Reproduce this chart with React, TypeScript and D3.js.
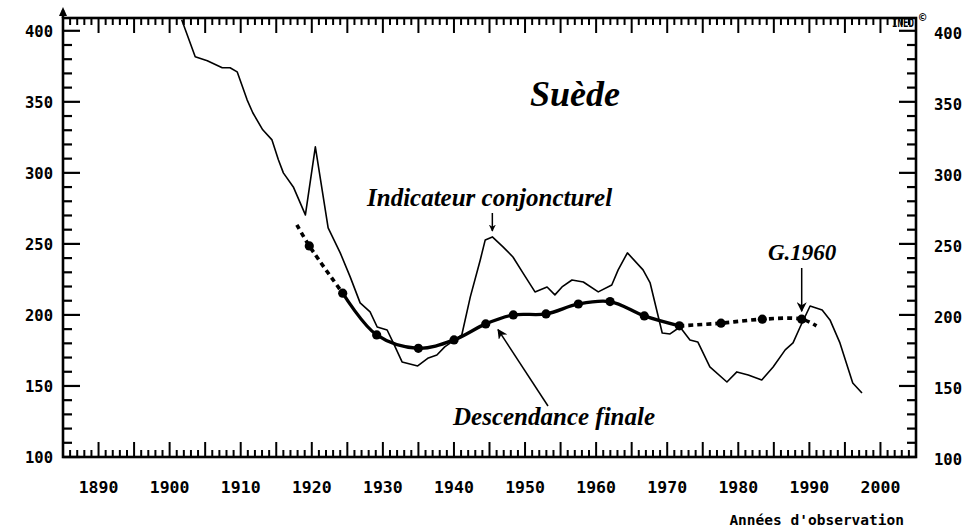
import React from "react";
import * as d3 from "d3";

// Indicateur conjoncturel (thin line), x 100
const IC_YEARS = [1901.7, 1903.6, 1905.3, 1907.4, 1908.5, 1909.5, 1910.9, 1911.7, 1913.1, 1914.4, 1915.3, 1916.0, 1917.4, 1919.1, 1920.5, 1922.3, 1924.0, 1925.4, 1926.8, 1928.2, 1929.2, 1930.6, 1931.4, 1932.7, 1934.9, 1936.4, 1937.6, 1938.7, 1941.1, 1942.3, 1943.7, 1944.4, 1945.4, 1946.9, 1948.3, 1949.7, 1951.4, 1953.1, 1954.2, 1955.2, 1956.6, 1958.2, 1960.3, 1962.2, 1963.1, 1964.4, 1966.6, 1967.6, 1969.3, 1970.4, 1971.8, 1973.2, 1974.3, 1976.0, 1978.4, 1979.8, 1981.4, 1983.3, 1984.9, 1986.6, 1987.7, 1988.7, 1990.1, 1991.8, 1992.9, 1994.3, 1996.1, 1997.4];
const IC_VALUES = [407.7, 381.7, 378.9, 374.0, 374.0, 371.1, 351.4, 342.3, 330.3, 323.2, 309.2, 300.0, 290.1, 270.4, 318.3, 261.3, 243.7, 226.8, 208.5, 202.1, 191.5, 189.4, 181.0, 166.9, 164.1, 169.7, 171.8, 177.5, 185.9, 212.7, 238.7, 252.8, 254.9, 247.9, 240.8, 229.6, 216.2, 219.7, 214.1, 219.7, 224.6, 223.2, 216.2, 221.1, 231.7, 243.7, 231.7, 222.5, 187.3, 186.6, 191.5, 182.4, 181.0, 163.4, 152.8, 159.9, 157.7, 154.2, 163.4, 175.4, 180.3, 191.5, 206.3, 203.5, 196.5, 180.3, 152.1, 145.1];

// Descendance finale (thick line with dots)
const DF_YEARS = [1917.9, 1919.65, 1924.35, 1929.13, 1934.99, 1940.01, 1944.47, 1948.35, 1952.95, 1957.5, 1961.96, 1966.78, 1971.71, 1977.57, 1983.38, 1988.92, 1991.0];
const DF_VALUES = [263.4, 248.6, 215.3, 185.9, 176.5, 182.4, 193.7, 200.0, 200.7, 207.7, 209.4, 199.3, 192.3, 194.2, 197.0, 197.0, 192.3];
const DF_HAS_DOT = [false, true, true, true, true, true, true, true, true, true, true, true, true, true, true, true, false];
const DF_SOLID_FROM = 2;
const DF_SOLID_TO = 12;

const X_TICK_LABELS = [1890, 1900, 1910, 1920, 1930, 1940, 1950, 1960, 1970, 1980, 1990, 2000];
const Y_TICK_LABELS = [100, 150, 200, 250, 300, 350, 400];

const TITLE = "Suède";
const LABEL_IC = "Indicateur conjoncturel";
const LABEL_DF = "Descendance finale";
const LABEL_G = "G.1960";
const X_TITLE = "Années d'observation";

const W = 965;
const H = 531;

export default function App() {
  const x = d3.scaleLinear().domain([1885, 2005]).range([63, 916]);
  const y = d3.scaleLinear().domain([100, 409]).range([457, 18]);
  const x0 = x(1885), x1 = x(2005), yTop = y(409), yBot = y(100);

  const icData = IC_YEARS.map((yr, i) => [yr, IC_VALUES[i]] as [number, number]);
  const dfData = DF_YEARS.map((yr, i) => [yr, DF_VALUES[i]] as [number, number]);

  const thin = d3.line<[number, number]>().x(d => x(d[0])).y(d => y(d[1]));
  const smooth = d3.line<[number, number]>().x(d => x(d[0])).y(d => y(d[1])).curve(d3.curveCatmullRom.alpha(0.5));

  const dfStart = dfData.slice(0, DF_SOLID_FROM + 1);
  const dfSolid = dfData.slice(DF_SOLID_FROM, DF_SOLID_TO + 1);
  const dfEnd = dfData.slice(DF_SOLID_TO);

  const yearTicks = d3.range(1885, 2006, 1);
  const valTicks = d3.range(100, 410, 10);

  const serif = "'Liberation Serif', 'Times New Roman', serif";
  const mono = "'DejaVu Sans Mono', monospace";

  return (
    <svg width={W} height={H} style={{ position: "absolute", left: 0, top: 0, background: "#fff" }}>
      <defs>
        <marker id="arr" viewBox="0 0 10 10" refX="9" refY="5" markerWidth="7" markerHeight="7" orient="auto" markerUnits="userSpaceOnUse">
          <path d="M0,0 L10,5 L0,10 L3,5 z" fill="#000" />
        </marker>
        <marker id="arrBig" viewBox="0 0 10 10" refX="9" refY="5" markerWidth="10" markerHeight="10" orient="auto" markerUnits="userSpaceOnUse">
          <path d="M0,0 L10,5 L0,10 L3,5 z" fill="#000" />
        </marker>
      </defs>

      {/* frame */}
      <rect x={x0} y={yTop} width={x1 - x0} height={yBot - yTop} fill="none" stroke="#000" strokeWidth={2.6} />
      {/* left axis arrow */}
      <line x1={x0} y1={yTop} x2={x0} y2={yTop - 8} stroke="#000" strokeWidth={2.5} />
      <path d={`M${x0 - 4},${yTop - 2} L${x0},${yTop - 11} L${x0 + 4},${yTop - 2} z`} fill="#000" />

      {/* vertical ticks */}
      {valTicks.map(v => {
        const len = v % 50 === 0 ? 17 : 9;
        return (
          <g key={"v" + v}>
            <line x1={x0} x2={x0 + len} y1={y(v)} y2={y(v)} stroke="#000" strokeWidth={2.2} />
            <line x1={x1} x2={x1 - len} y1={y(v)} y2={y(v)} stroke="#000" strokeWidth={2.2} />
          </g>
        );
      })}
      {/* horizontal ticks */}
      {yearTicks.map(yr => {
        const len = yr % 5 === 0 ? 15 : 7;
        return (
          <g key={"h" + yr}>
            <line x1={x(yr)} x2={x(yr)} y1={yTop} y2={yTop + len} stroke="#000" strokeWidth={2} />
            <line x1={x(yr)} x2={x(yr)} y1={yBot} y2={yBot - len} stroke="#000" strokeWidth={2} />
          </g>
        );
      })}

      {/* y tick labels */}
      {Y_TICK_LABELS.map(v => (
        <g key={"yl" + v}>
          <text x={x0 - 10} y={y(v) + 6} textAnchor="end" fontFamily={mono} fontWeight="bold" fontSize={15.5} fill="#000">{v}</text>
          <text x={x1 + 18} y={y(v) + 8} textAnchor="start" fontFamily={mono} fontWeight="bold" fontSize={15.5} fill="#000">{v}</text>
        </g>
      ))}
      {/* x tick labels */}
      {X_TICK_LABELS.map(yr => (
        <text key={"xl" + yr} x={x(yr)} y={yBot + 36} textAnchor="middle" fontFamily={mono} fontWeight="bold" fontSize={16.5} fill="#000">{yr}</text>
      ))}
      <text x={x1 - 12} y={H - 6} textAnchor="end" fontFamily={mono} fontWeight="bold" fontSize={14.5} fill="#000">{X_TITLE}</text>

      {/* small copyright mark */}
      <text x={x1 - 24} y={yTop + 9} fontFamily={mono} fontSize={12} fontWeight="bold" fill="#000" textLength={22} lengthAdjust="spacingAndGlyphs">INED</text>
      <text x={x1 + 3} y={yTop + 4} fontFamily={mono} fontSize={12} fontWeight="bold" fill="#000">©</text>

      {/* Indicateur conjoncturel */}
      <path d={thin(icData) || ""} fill="none" stroke="#000" strokeWidth={1.6} strokeLinejoin="round" />

      {/* Descendance finale */}
      <path d={smooth(dfStart) || ""} fill="none" stroke="#000" strokeWidth={3.6} strokeDasharray="5 4" />
      <path d={smooth(dfSolid) || ""} fill="none" stroke="#000" strokeWidth={3.3} />
      <path d={smooth(dfEnd) || ""} fill="none" stroke="#000" strokeWidth={3.6} strokeDasharray="5 4" />
      {dfData.map((d, i) =>
        DF_HAS_DOT[i] ? <circle key={"dot" + i} cx={x(d[0])} cy={y(d[1])} r={4.6} fill="#000" /> : null
      )}

      {/* annotations */}
      <text x={530} y={106} fontFamily={serif} fontSize={36} fontWeight="bold" fontStyle="italic" fill="#000">{TITLE}</text>
      <text x={367} y={206} fontFamily={serif} fontSize={25} fontWeight="bold" fontStyle="italic" fill="#000">{LABEL_IC}</text>
      <line x1={x(1945.4)} y1={213} x2={x(1945.4)} y2={y(254.9) - 6} stroke="#000" strokeWidth={1.5} markerEnd="url(#arr)" />
      <text x={768} y={260} fontFamily={serif} fontSize={23} fontWeight="bold" fontStyle="italic" fill="#000">{LABEL_G}</text>
      <line x1={x(1988.92)} y1={268} x2={x(1988.92)} y2={y(197) - 8} stroke="#000" strokeWidth={1.5} markerEnd="url(#arrBig)" />
      <text x={453} y={425} fontFamily={serif} fontSize={25} fontWeight="bold" fontStyle="italic" fill="#000">{LABEL_DF}</text>
      <line x1={548} y1={406} x2={x(1946.2)} y2={y(196) + 9} stroke="#000" strokeWidth={1.5} markerEnd="url(#arrBig)" />
    </svg>
  );
}
